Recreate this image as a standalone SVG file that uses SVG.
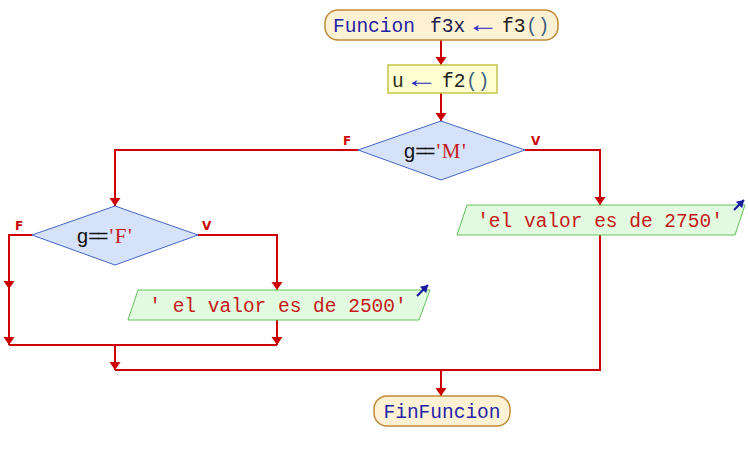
<svg xmlns="http://www.w3.org/2000/svg" width="748" height="460" viewBox="0 0 748 460">
<style>
.mono{font-family:"Liberation Mono","Courier New",monospace;font-size:19.5px}
.arr{font-family:"Liberation Sans",Arial,sans-serif;font-size:24px;fill:#2424c0}
.cond{font-family:"Liberation Sans",Arial,sans-serif;font-size:20px}
.str{fill:#c41a1a}
.lbl{font-family:"DejaVu Sans","Liberation Sans",sans-serif;font-size:12px;font-weight:bold;fill:#cc0000}
.conn{fill:none;stroke:#cc0000;stroke-width:2}
.term{fill:#fdf1d4;stroke:#c08a3a;stroke-width:1.5}
.proc{fill:#ffffd2;stroke:#c4c44a;stroke-width:1.5}
.dec{fill:#d6e2fa;stroke:#4664c4;stroke-width:1}
.io{fill:#e2fbe0;stroke:#62c05a;stroke-width:1}
.out{stroke:#1a1aa0;stroke-width:2.2;fill:none}
</style>
<defs>
<marker id="ah" markerUnits="userSpaceOnUse" markerWidth="12" markerHeight="12" viewBox="0 -6 10 12" refX="8" refY="0" orient="auto">
<path d="M0,-5.5 L8,0 L0,5.5 z" fill="#cc0000"/>
</marker>
<marker id="bh" markerUnits="userSpaceOnUse" markerWidth="10" markerHeight="10" viewBox="0 -5 8 10" refX="7" refY="0" orient="auto">
<path d="M0,-4.5 L7,0 L0,4.5 z" fill="#1a1aa0"/>
</marker>
</defs>
<g id="connectors">
<path class="conn" d="M441,40 V65" marker-end="url(#ah)"/>
<path class="conn" d="M441,93 V121" marker-end="url(#ah)"/>
<path class="conn" d="M358,150 H115 V206" marker-end="url(#ah)"/>
<path class="conn" d="M525,150 H600 V205" marker-end="url(#ah)"/>
<path class="conn" d="M32,235 H9 V289" marker-end="url(#ah)"/>
<path class="conn" d="M9,287 V345" marker-end="url(#ah)"/>
<path class="conn" d="M198,235 H277 V290" marker-end="url(#ah)"/>
<path class="conn" d="M277,320 V345" marker-end="url(#ah)"/>
<path class="conn" d="M9,345 H277"/>
<path class="conn" d="M115,345 V370" marker-end="url(#ah)"/>
<path class="conn" d="M600,235 V370 H115"/>
<path class="conn" d="M441,370 V396" marker-end="url(#ah)"/>
<text class="lbl" x="343" y="145">F</text>
<text class="lbl" x="531" y="145">V</text>
<text class="lbl" x="15" y="230">F</text>
<text class="lbl" x="202" y="230">V</text>
</g>
<g id="start">
<rect class="term" x="325" y="10" width="233" height="30" rx="13" ry="13"/>
<text class="mono" y="32"><tspan x="333" fill="#2424a8">Funcion</tspan><tspan x="430" fill="#1c1c50">f3x</tspan><tspan x="502" fill="#202020">f3</tspan><tspan x="526" fill="#3c6080">()</tspan></text>
<text class="arr" x="467" y="32" textLength="32" lengthAdjust="spacingAndGlyphs">←</text>
</g>
<g id="assign">
<rect class="proc" x="388" y="65" width="109" height="28"/>
<text class="mono" y="87"><tspan x="392" fill="#303018">u</tspan><tspan x="442" fill="#202020">f2</tspan><tspan x="466" fill="#3c6080">()</tspan></text>
<text class="arr" x="405" y="87" textLength="33" lengthAdjust="spacingAndGlyphs">←</text>
</g>
<g id="dec1">
<polygon class="dec" points="441,121 525,150 441,180 358,150"/>
<text class="cond" x="404" y="158"><tspan fill="#101010">g</tspan><tspan fill="#101010" letter-spacing="-3">==</tspan><tspan class="str" font-family="Liberation Serif,serif" font-size="21" letter-spacing="1.5" dx="4">'M'</tspan></text>
</g>
<g id="dec2">
<polygon class="dec" points="115,206 198,235 115,265 32,235"/>
<text class="cond" x="77" y="243"><tspan fill="#101010">g</tspan><tspan fill="#101010" letter-spacing="-3">==</tspan><tspan class="str" font-family="Liberation Serif,serif" font-size="21" letter-spacing="1.5" dx="4">'F'</tspan></text>
</g>
<g id="out2750">
<polygon class="io" points="467,205 745,205 735,235 457,235"/>
<text class="mono str" x="600" y="227" text-anchor="middle">'el valor es de 2750'</text>
<path class="out" d="M734,210 L744,200" marker-end="url(#bh)"/>
</g>
<g id="out2500">
<polygon class="io" points="138,290 430,290 419,320 128,320"/>
<text class="mono str" x="278" y="312" text-anchor="middle">' el valor es de 2500'</text>
<path class="out" d="M417,296 L428,285" marker-end="url(#bh)"/>
</g>
<g id="end">
<rect class="term" x="374" y="396" width="136" height="30" rx="13" ry="13"/>
<text class="mono" x="442" y="418" text-anchor="middle" fill="#2424a8">FinFuncion</text>
</g>
</svg>
